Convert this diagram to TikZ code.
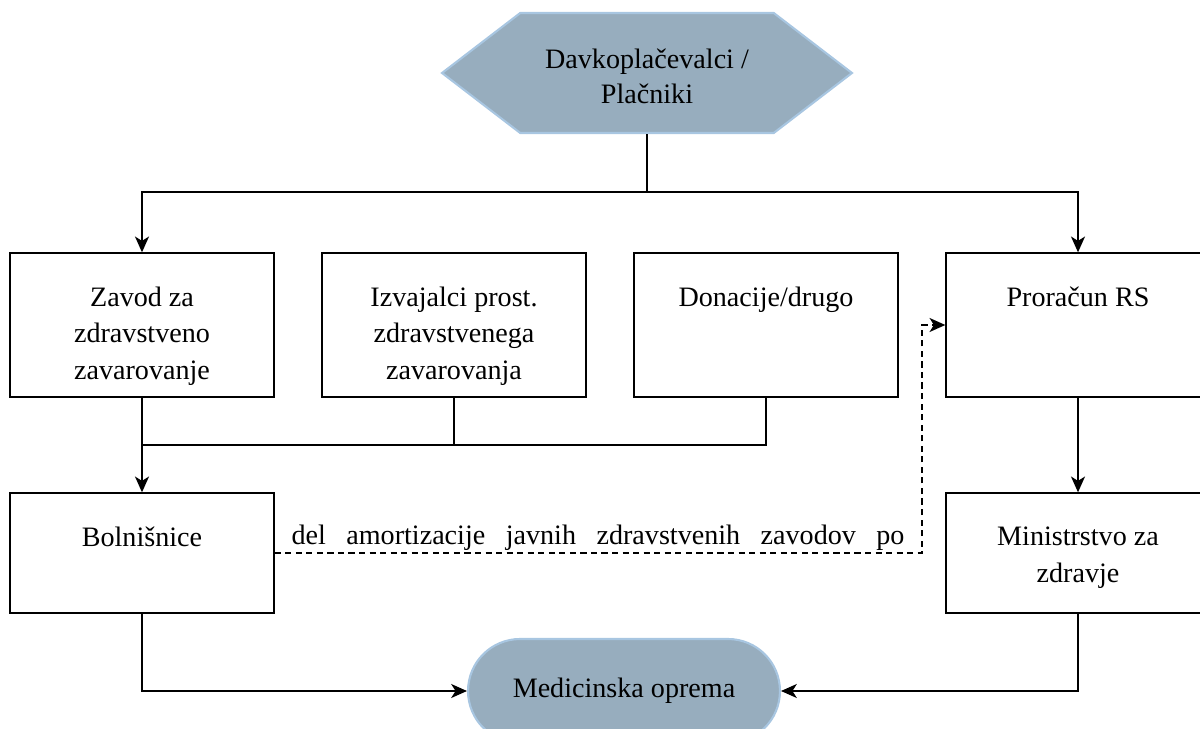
\documentclass[tikz,border=0pt]{standalone}
\usepackage{fontspec}
\setmainfont{Liberation Serif}
\usetikzlibrary{arrows.meta,shapes.symbols}
\definecolor{fillgrey}{RGB}{151,173,190}
\definecolor{rimblue}{RGB}{168,198,225}
\newcommand{\toptext}[3]{\parbox[c][#1][t]{#2}{\centering #3}}
\begin{document}
\begin{tikzpicture}
[x=0.02cm,y=-0.02cm,
 font=\fontsize{16}{21}\selectfont,
 box/.style={draw,line width=0.8pt,inner sep=0pt,minimum width=5.28cm,minimum height=2.88cm},
 smallbox/.style={box,minimum height=2.4cm},
 hexbox/.style={signal,signal to=west and east,signal pointer angle=75,
   fill=fillgrey,draw=rimblue,line width=1.2pt,minimum width=8.2cm,minimum height=2.4cm,
   align=center,inner sep=0pt},
 capsule/.style={rectangle,rounded corners=1.04cm,fill=fillgrey,draw=rimblue,line width=1.2pt,
   minimum width=6.24cm,minimum height=2.08cm},
 flow/.style={line width=0.8pt,-{Stealth[length=9pt,width=8pt,inset=2.5pt]}},
 plain/.style={line width=0.8pt},
 dashline/.style={flow,dash pattern=on 3.5pt off 2.5pt}]
\useasboundingbox (0,0) rectangle (1200,729);
%% top source
\node[hexbox] (davk) at (647,73) {};
\node[align=center,font=\fontsize{16}{20}\selectfont] (davktext) at (647,76)
  {Davkoplačevalci /\\ Plačniki};
%% first row of boxes
\node[box] (zavod) at (142,325)
  {\toptext{1.54cm}{4.9cm}{Zavod za\\ zdravstveno\\ zavarovanje}};
\node[box] (izvajalci) at (454,325)
  {\toptext{1.54cm}{4.9cm}{Izvajalci prost.\\ zdravstvenega\\ zavarovanja}};
\node[box] (donacije) at (766,325)
  {\toptext{1.54cm}{4.9cm}{Donacije/drugo}};
\node[box] (proracun) at (1078,325)
  {\toptext{1.54cm}{4.9cm}{Proračun RS}};
%% second row
\node[smallbox] (bolnisnice) at (142,553)
  {\toptext{1.04cm}{4.9cm}{Bolnišnice}};
\node[smallbox] (ministrstvo) at (1078,553)
  {\toptext{1.04cm}{4.9cm}{Ministrstvo za\\ zdravje}};
%% target
\node[capsule] (oprema) at (624,691) {Medicinska oprema};
%% split and join points
\coordinate (split) at (647,192);
\coordinate (join) at (142,445);
\coordinate (bend) at (922,325);
%% connectors
\draw[plain] (davk.south) -- (split);
\draw[flow] (split) -| (zavod.north);
\draw[flow] (split) -| (proracun.north);
\draw[plain] (izvajalci.south) |- (join);
\draw[plain] (donacije.south) |- (join);
\draw[flow] (zavod.south) -- (bolnisnice.north);
\draw[flow] (proracun.south) -- (ministrstvo.north);
\draw[dashline] (bolnisnice.east) -| (bend) -- (proracun.west);
\node (amort) at (598,538)
  {\makebox[12.26cm][s]{del amortizacije javnih zdravstvenih zavodov po}};
\draw[flow] (bolnisnice.south) |- (oprema.west);
\draw[flow] (ministrstvo.south) |- (oprema.east);
\end{tikzpicture}
\end{document}
